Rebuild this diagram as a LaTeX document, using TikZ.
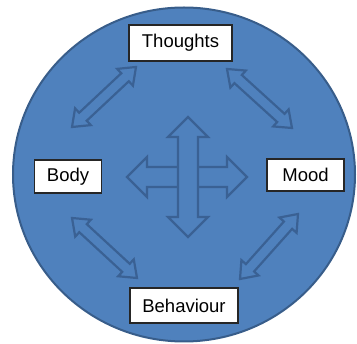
\documentclass[tikz,border=0pt]{standalone}
\usepackage{fontspec}
\setmainfont{Liberation Sans}
\usetikzlibrary{calc}
\definecolor{circfill}{HTML}{4F81BD}
\definecolor{circline}{HTML}{385D8A}
\definecolor{arrline}{HTML}{3A6194}
\tikzset{
  lbl/.style={draw=black!85, line width=1.2pt, fill=white, inner sep=0pt,
    font=\fontsize{18.5}{21}\selectfont},
  arrstyle/.style={draw=arrline, line width=2.2pt, fill=circfill, line join=miter},
}
\newcommand\hollowarr[5]{%
\draw[arrstyle] let \p1=($(#2)-(#1)$), \n1={atan2(\y1,\x1)} in
 (#1) -- ($(#1)!#3!(#2)+(\n1+90:#5)$) -- ($(#1)!#3!(#2)+(\n1+90:#4)$)
 -- ($(#2)!#3!(#1)+(\n1+90:#4)$) -- ($(#2)!#3!(#1)+(\n1+90:#5)$) -- (#2)
 -- ($(#2)!#3!(#1)+(\n1-90:#5)$) -- ($(#2)!#3!(#1)+(\n1-90:#4)$)
 -- ($(#1)!#3!(#2)+(\n1-90:#4)$) -- ($(#1)!#3!(#2)+(\n1-90:#5)$) -- cycle;}
\begin{document}
\begin{tikzpicture}[x=1pt,y=-1pt]
\useasboundingbox (0,0) rectangle (357,344);
\draw[circline, line width=2pt, fill=circfill] (184,174.5) ellipse [x radius=171, y radius=167];
% boxes
\node[lbl, minimum width=103pt, minimum height=36pt] (th) at (180.5,43) {Thoughts};
\node[lbl, minimum width=67pt, minimum height=33pt] (bo) at (68,176.5) {Body};
\node[lbl, minimum width=77pt, minimum height=32pt] (mo) at (305.5,175) {Mood};
\node[lbl, minimum width=108pt, minimum height=35pt] (be) at (184,305.5) {Behaviour};
% arrow end points
\coordinate (tl1) at (72,127); \coordinate (tl2) at (136,67);
\coordinate (tr1) at (227,69); \coordinate (tr2) at (292,128);
\coordinate (bl1) at (72,218); \coordinate (bl2) at (137,278);
\coordinate (br1) at (240,279); \coordinate (br2) at (298,214);
\coordinate (hl) at (127,177); \coordinate (hr) at (247,177);
\coordinate (vt) at (188,117); \coordinate (vb) at (188,237);
\hollowarr{tl1}{tl2}{15pt}{5.5pt}{11.5pt}
\hollowarr{tr1}{tr2}{15pt}{5.5pt}{11.5pt}
\hollowarr{bl1}{bl2}{15pt}{5.5pt}{11.5pt}
\hollowarr{br1}{br2}{15pt}{5.5pt}{11.5pt}
\hollowarr{hl}{hr}{20pt}{10pt}{20pt}
\hollowarr{vt}{vb}{20pt}{10pt}{20pt}
\end{tikzpicture}
\end{document}
